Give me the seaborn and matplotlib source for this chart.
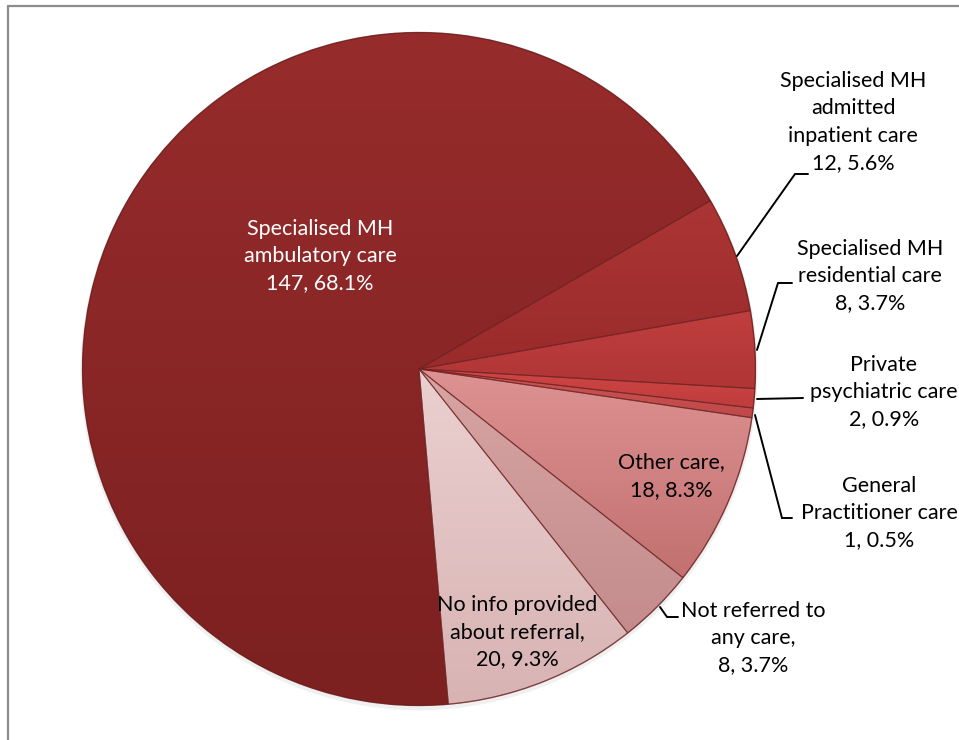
import numpy as np
import matplotlib
matplotlib.use("Agg")
import matplotlib.pyplot as plt
from matplotlib.lines import Line2D
from matplotlib.patches import Circle, Wedge
from matplotlib.colors import LinearSegmentedColormap
import seaborn as sns

# Referral destinations and counts
categories = [
    "Specialised MH\nambulatory care",
    "Specialised MH\nadmitted\ninpatient care",
    "Specialised MH\nresidential care",
    "Private\npsychiatric care",
    "General\nPractitioner care",
    "Other care,",
    "Not referred to\nany care,",
    "No info provided\nabout referral,",
]
counts = [147, 12, 8, 2, 1, 18, 8, 20]

# Slice shading: (top colour, bottom colour)
top_colors = ["#972C2C", "#AC3535", "#C03E3E", "#D04646", "#D05454",
              "#DE9292", "#D8A4A4", "#EBD0D0"]
bottom_colors = ["#7C2020", "#9A2B2B", "#B03535", "#BE3C3C", "#BE4848",
                 "#C27070", "#C48C8C", "#D8B3B3"]

sns.set_theme(style="white")
plt.rcParams["font.family"] = ["Lato", "DejaVu Sans"]

W, H = 959, 740
fig = plt.figure(figsize=(W / 100, H / 100), dpi=100)
ax = fig.add_axes([0, 0, 1, 1])

# pixel layout of the pie
cx, cy, R = 419, 369, 336.5


def px(x, y):
    return (x - cx) / R, (cy - y) / R


# soft drop shadow under the pie
ax.add_patch(Circle((0.0, -0.008), 1.006, facecolor="#000000", alpha=0.06,
                    edgecolor="none", zorder=0))

wedges, _ = ax.pie(counts, startangle=-85, counterclock=False, radius=1.0,
                   colors=top_colors,
                   wedgeprops=dict(edgecolor="none", linewidth=0))

# vertical gradient fill clipped to every slice, spanning the slice's own height
grad = np.linspace(0, 1, 256).reshape(-1, 1)
for w, c_top, c_bot in zip(wedges, top_colors, bottom_colors):
    verts = w.get_patch_transform().transform(w.get_path().vertices)
    x0, y0 = verts.min(axis=0)
    x1, y1 = verts.max(axis=0)
    cmap = LinearSegmentedColormap.from_list("g", [c_top, c_bot])
    im = ax.imshow(grad, cmap=cmap, extent=(x0, x1, y0, y1), origin="upper",
                   aspect="auto", zorder=1.5)
    im.set_clip_path(w)
    w.set_zorder(1)
    ax.add_patch(Wedge(w.center, w.r, w.theta1, w.theta2,
                       facecolor="none", edgecolor="#6b2222",
                       linewidth=0.8, alpha=0.65, zorder=2))

# outer rim
ax.add_patch(Circle((0, 0), 1.0, facecolor="none", edgecolor="#6a1c1c",
                    linewidth=1.0, alpha=0.5, zorder=2.5))

total = sum(counts)
labels = [f"{cat}\n{n}, {100 * n / total:.1f}%" for cat, n in zip(categories, counts)]

# label centres (pixels) and text colours
label_pos = [(320, 256), (853, 122), (870, 276), (884, 392),
             (879, 513), (671, 476), (753, 638), (517, 632)]
label_col = ["white", "black", "black", "black", "black", "black", "black", "black"]

for lab, (lx, ly), col in zip(labels, label_pos, label_col):
    x, y = px(lx, ly)
    ax.text(x, y, lab, ha="center", va="center", color=col, fontsize=15.5,
            linespacing=1.45, zorder=5)

# leader lines for the small slices
leaders = [
    [(737, 256), (795, 174), (808, 174)],
    [(757, 350), (778, 283), (792, 283)],
    [(757, 399), (803, 398)],
    [(755, 415), (782, 518), (792, 518)],
    [(660, 607), (667, 617), (678, 617)],
]
for pts in leaders:
    xs, ys = zip(*[px(a, b) for a, b in pts])
    ax.plot(xs, ys, color="black", linewidth=1.4, zorder=4,
            solid_joinstyle="miter")

ax.set_xlim(-cx / R, (W - cx) / R)
ax.set_ylim(-(H - cy) / R, cy / R)
ax.set_aspect("auto")
ax.axis("off")

# chart frame (top and left edges)
fig.add_artist(Line2D([8 / W, 8 / W], [0, 1 - 6 / H], color="#8C8C8C",
                      linewidth=1.6, transform=fig.transFigure))
fig.add_artist(Line2D([8 / W, 1], [1 - 6 / H, 1 - 6 / H], color="#8C8C8C",
                      linewidth=1.6, transform=fig.transFigure))

fig.savefig("out.png", dpi=100, facecolor="white")
